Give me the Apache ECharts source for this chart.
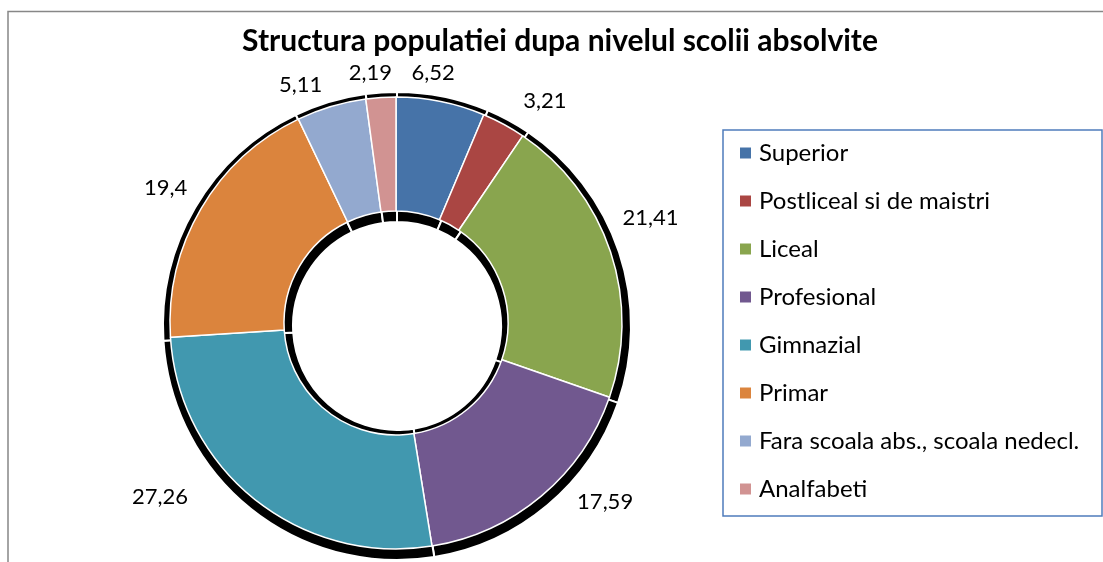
<!DOCTYPE html>
<html>
<head>
<meta charset="utf-8">
<script src="https://cdn.jsdelivr.net/npm/echarts@6.0.0/dist/echarts.min.js"></script>
<style>
  html, body { margin: 0; padding: 0; background: #fff; }
  #chart { width: 1103px; height: 562px; }
</style>
</head>
<body>
<div id="chart"></div>
<script>
// Structura populatiei dupa nivelul scolii absolvite
const categories = [
    'Superior',
    'Postliceal si de maistri',
    'Liceal',
    'Profesional',
    'Gimnazial',
    'Primar',
    'Fara scoala abs., scoala nedecl.',
    'Analfabeti'
];
const values = [6.52, 3.21, 21.41, 17.59, 27.26, 19.4, 5.11, 2.19];
const colors = ['#4673a8', '#aa4643', '#89a54e', '#71588f', '#4198af', '#db843d', '#93a9cf', '#d19392'];

// labels were dragged by hand in the original: [angle shift in degrees, extra distance in px]
const labelNudge = [[-3, -6], [5.4, 1], [-4, 0], [-9.4, 2], [15, 19], [0, -2], [-5.2, -7], [-2, -7]];

const FONT = 'Lato, "Open Sans", sans-serif';
const CX = 396, CY = 323, R_IN = 112, R_OUT = 226;

const total = values.reduce((a, b) => a + b, 0);

function midAngle(i) {
    let start = 0;
    for (let k = 0; k < i; k++) start += values[k];
    return (start + values[i] / 2) / total * Math.PI * 2;
}

const pieData = categories.map((name, i) => ({
    name: name,
    value: values[i],
    itemStyle: { color: colors[i] }
}));

const chart = echarts.init(document.getElementById('chart'));

chart.setOption({
    animation: false,
    title: {
        text: 'Structura populatiei dupa nivelul scolii absolvite',
        left: 555,
        top: 21,
        textAlign: 'center',
        textStyle: { fontFamily: FONT, fontWeight: 'bold', fontSize: 30, color: '#000' }
    },
    legend: {
        orient: 'vertical',
        left: 738,
        top: 141,
        padding: 0,
        itemGap: 24,
        itemWidth: 13,
        itemHeight: 13,
        icon: 'rect',
        data: categories,
        textStyle: { fontFamily: FONT, fontSize: 24, color: '#000', lineHeight: 24, padding: [0, 0, 0, 2] }
    },
    graphic: [
        {
            type: 'rect',
            z: -10,
            shape: { x: 8, y: 11.5, width: 1200, height: 700 },
            style: { fill: 'none', stroke: '#878787', lineWidth: 1.5 }
        },
        {
            type: 'rect',
            z: -5,
            shape: { x: 723, y: 130, width: 379, height: 386 },
            style: { fill: '#fff', stroke: '#4f7cbc', lineWidth: 1.5 }
        }
    ],
    series: [
        {
            // black drop shadow of the ring
            type: 'pie',
            silent: true,
            center: [CX + 1, CY + 3],
            radius: [R_IN - 8, R_OUT + 8],
            startAngle: 90,
            clockwise: true,
            label: { show: false },
            labelLine: { show: false },
            itemStyle: { color: '#000', borderColor: '#fff', borderWidth: 2 },
            emphasis: { disabled: true },
            data: values.map((v, i) => ({ name: 'shadow' + i, value: v }))
        },
        {
            type: 'pie',
            center: [CX, CY],
            radius: [R_IN, R_OUT],
            startAngle: 90,
            clockwise: true,
            avoidLabelOverlap: false,
            itemStyle: { borderColor: '#fff', borderWidth: 1.5 },
            label: {
                show: true,
                position: 'outside',
                fontFamily: FONT,
                fontSize: 22,
                color: '#000',
                formatter: p => String(p.value).replace('.', ',')
            },
            labelLine: { show: false },
            labelLayout: function (params) {
                const i = params.dataIndex;
                const a = midAngle(i) + labelNudge[i][0] * Math.PI / 180;
                const s = Math.sin(a), c = Math.cos(a);
                const w = params.labelRect.width / 2, h = params.labelRect.height / 2;
                const r = R_OUT + 19 + w * Math.abs(s) + h * Math.abs(c) + labelNudge[i][1];
                return {
                    x: CX + r * s,
                    y: CY - r * c,
                    align: 'center',
                    verticalAlign: 'middle'
                };
            },
            emphasis: { disabled: true },
            data: pieData
        }
    ]
});

window.addEventListener('resize', () => chart.resize());
</script>
</body>
</html>
